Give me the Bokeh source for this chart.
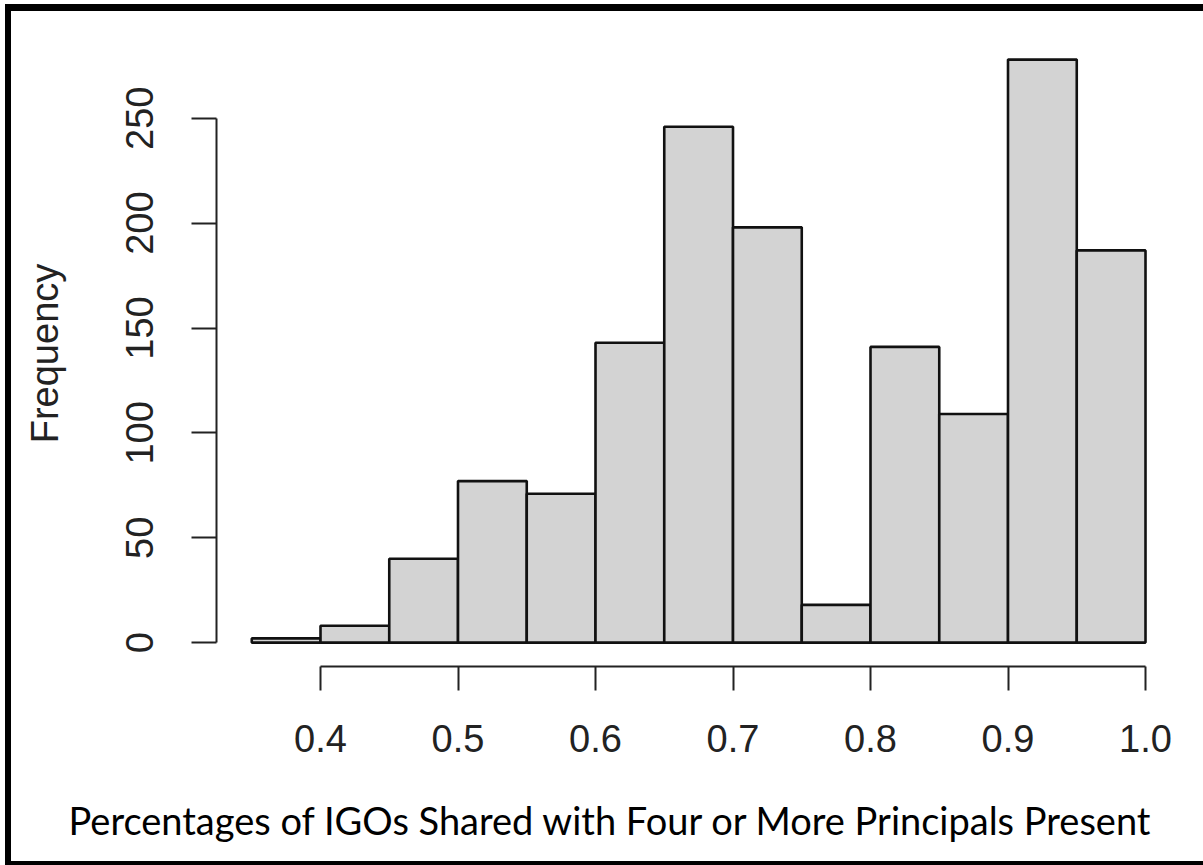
from bokeh.plotting import figure
from bokeh.models import (Range1d, FixedTicker, PrintfTickFormatter, Title, InlineStyleSheet)
from bokeh.embed import file_html
from bokeh.resources import INLINE

# Histogram bins (share of IGOs) and their frequencies
bin_edges = [0.35, 0.40, 0.45, 0.50, 0.55, 0.60, 0.65, 0.70, 0.75, 0.80, 0.85, 0.90, 0.95, 1.00]
counts = [2, 8, 40, 77, 71, 143, 246, 198, 18, 141, 109, 278, 187]

x_ticks = [0.4, 0.5, 0.6, 0.7, 0.8, 0.9, 1.0]
y_ticks = [0, 50, 100, 150, 200, 250]

x_title = "Percentages of IGOs Shared with Four or More Principals Present"
y_title = "Frequency"

# black frame round the whole figure (open on the right)
frame_css = InlineStyleSheet(css="""
:host { position: relative; }
:host::after {
  content: "";
  position: absolute;
  left: 5px; top: 4px;
  width: 1198px; height: 861px;
  box-sizing: border-box;
  border-left: 6px solid #000;
  border-top: 7px solid #000;
  border-bottom: 4px solid #000;
  pointer-events: none;
  z-index: 1000;
}
""")

p = figure(
    width=1203, height=865,
    output_backend="svg", toolbar_location=None,
    x_range=Range1d(0.32436, 1.02545),
    y_range=Range1d(-11.4, 287.1),
    min_border_left=216, min_border_right=23,
    min_border_top=40, min_border_bottom=199,
    background_fill_color="white", border_fill_color="white",
    stylesheets=[frame_css],
)
p.outline_line_color = None
p.grid.visible = False

p.quad(left=bin_edges[:-1], right=bin_edges[1:], bottom=0, top=counts,
       fill_color="#d3d3d3", line_color="#111111", line_width=2.6)

axis_font = "Liberation Sans"

# x axis
xa = p.xaxis[0]
xa.ticker = FixedTicker(ticks=x_ticks)
xa.formatter = PrintfTickFormatter(format="%.1f")
xa.bounds = (0.4, 1.0)
xa.axis_line_color = "#222222"
xa.axis_line_width = 2
xa.major_tick_line_color = "#222222"
xa.major_tick_line_width = 2
xa.major_tick_in = 0
xa.major_tick_out = 24
xa.minor_tick_line_color = None
xa.major_label_text_font = axis_font
xa.major_label_text_font_size = "38px"
xa.major_label_text_color = "#222222"
xa.major_label_standoff = 34
# blank axis label used only as vertical spacing above the x title
xa.axis_label = "\u00a0"
xa.axis_label_text_font_size = "1px"
xa.axis_label_standoff = 34

# x title below the axis, shifted left of the plotting area's centre
p.add_layout(Title(text=x_title, align="left", offset=-148,
                   text_font="Lato", text_font_style="normal",
                   text_font_size="38px", text_color="#000000",
                   standoff=4), "below")

# y axis
ya = p.yaxis[0]
ya.ticker = FixedTicker(ticks=y_ticks)
ya.bounds = (0, 250)
ya.axis_line_color = "#222222"
ya.axis_line_width = 2
ya.major_tick_line_color = "#222222"
ya.major_tick_line_width = 2
ya.major_tick_in = 0
ya.major_tick_out = 25
ya.minor_tick_line_color = None
ya.major_label_orientation = "vertical"
ya.major_label_text_font = axis_font
ya.major_label_text_font_size = "38px"
ya.major_label_text_color = "#222222"
ya.major_label_standoff = 38
ya.axis_label = y_title
ya.axis_label_text_font = axis_font
ya.axis_label_text_font_style = "normal"
ya.axis_label_text_font_size = "38px"
ya.axis_label_text_color = "#222222"
ya.axis_label_standoff = 58

open("out.html", "w").write(file_html(p, INLINE))
